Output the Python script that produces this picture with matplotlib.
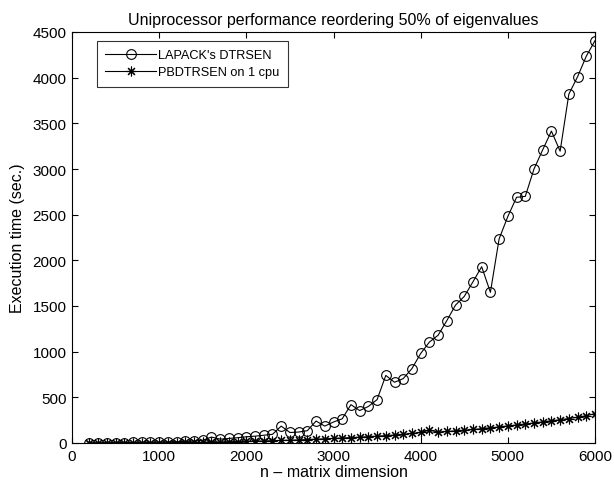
import matplotlib
matplotlib.use("Agg")
import matplotlib.pyplot as plt
import numpy as np

plt.rcParams['font.family'] = ['Liberation Sans', 'DejaVu Sans']

n_values = list(range(200, 6001, 100))

lapack = [1, 2, 3, 4, 5, 6, 7, 8, 10, 12, 14, 17, 22, 30, 65, 42, 50, 58, 68, 75,
          85, 95, 185, 115, 120, 135, 240, 185, 230, 265, 420, 355, 400, 475, 740,
          665, 705, 815, 980, 1105, 1180, 1340, 1510, 1605, 1765, 1930, 1650, 2235,
          2480, 2690, 2700, 3000, 3210, 3415, 3195, 3820, 4010, 4235, 4405]

pbdtrsen = [0.1, 0.2, 0.3, 0.6, 0.9, 1.3, 1.8, 2.3, 3, 3.8, 4.7, 5.8, 7, 8.3, 9.8,
            11.5, 13.3, 15.3, 17.5, 20, 22.5, 25, 28, 31, 34, 38, 42, 46, 50, 55,
            59, 64, 69, 75, 81, 87, 94, 105, 115, 140, 120, 126, 133, 140, 148, 157,
            166, 176, 187, 197, 208, 219, 231, 243, 255, 268, 282, 298, 322]

series_labels = ["LAPACK's DTRSEN", "PBDTRSEN on 1 cpu"]
x_ticks = [0, 1000, 2000, 3000, 4000, 5000, 6000]
y_ticks = list(range(0, 4501, 500))

fig = plt.figure(figsize=(6.14, 4.85), dpi=100)
ax = fig.add_axes([72/614, 1-444/485, (595-72)/614, (444-33)/485])

ax.plot(n_values, lapack, color='black', linewidth=0.8, marker='o', markersize=7,
        markerfacecolor='none', markeredgecolor='black', markeredgewidth=0.8,
        label=series_labels[0])
ax.plot(n_values, pbdtrsen, color='black', linewidth=0.8, marker=(8, 2, 0), markersize=7,
        markeredgecolor='black', markeredgewidth=0.8, label=series_labels[1])

ax.set_xlim(0, 6000)
ax.set_ylim(0, 4500)
ax.set_xticks(x_ticks)
ax.set_yticks(y_ticks)
ax.tick_params(direction='in', top=True, right=True, labelsize=11, length=4, width=0.8, pad=4)
for s in ax.spines.values():
    s.set_linewidth(0.8)

ax.set_title("Uniprocessor performance reordering 50% of eigenvalues", fontsize=11.5, pad=6)
ax.set_xlabel("n \u2013 matrix dimension", fontsize=11.5, labelpad=1)
ax.set_ylabel("Execution time (sec.)", fontsize=11.5, labelpad=5)

leg = ax.legend(loc='upper left', fontsize=9.2, frameon=True, fancybox=False,
                edgecolor='black', handlelength=4.0, handletextpad=0.15,
                bbox_to_anchor=((97-72)/523, (444-42)/411), borderaxespad=0,
                borderpad=0.65, labelspacing=0.4)
leg.get_frame().set_linewidth(0.8)

fig.savefig("out.png", dpi=100)
